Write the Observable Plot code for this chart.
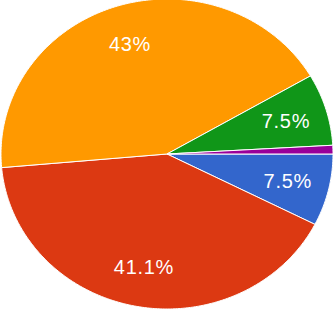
<!DOCTYPE html>
<html><head><meta charset="utf-8">
<script src="https://cdn.jsdelivr.net/npm/d3@7"></script>
<script src="https://cdn.jsdelivr.net/npm/@observablehq/plot@0.6"></script>
<style>
html,body{margin:0;padding:0;background:#fff}
#chart svg text{letter-spacing:0.7px}
</style>
</head><body><div id="chart"></div>
<script>
const categories = ["Option 1", "Option 2", "Option 3", "Option 4", "Option 5"];
const values = [7.5, 41.1, 43.0, 7.5, 0.9];
const valueLabels = ["7.5%", "41.1%", "43%", "7.5%", ""];
const colors = ["#3366cc", "#dc3912", "#ff9900", "#109618", "#990099"];

const arcs = d3.pie().sort(null).startAngle(Math.PI / 2).endAngle(Math.PI / 2 + 2 * Math.PI)(values);
const labelRadius = 0.745;
const labelData = arcs.map((a, i) => {
  const m = (a.startAngle + a.endAngle) / 2;
  return {cat: categories[i], text: valueLabels[i], ux: labelRadius * Math.sin(m), uy: -labelRadius * Math.cos(m)};
}).filter(d => d.text);

const fallbackColor = d3.scaleOrdinal(categories, colors);

function slices(index, scales) {
  const x = scales.x, y = scales.y;
  const color = typeof scales.color === "function" ? scales.color : fallbackColor;
  const g = d3.create("svg:g");
  arcs.forEach((a, i) => {
    const pts = [[x(0), y(0)]];
    const n = Math.max(2, Math.ceil((a.endAngle - a.startAngle) / 0.01));
    for (let k = 0; k <= n; k++) {
      const t = a.startAngle + (a.endAngle - a.startAngle) * k / n;
      pts.push([x(Math.sin(t)), y(-Math.cos(t))]);
    }
    g.append("path")
      .attr("d", "M" + pts.map(p => p.join(",")).join("L") + "Z")
      .attr("fill", color(categories[i]))
      .attr("stroke", "#fff")
      .attr("stroke-width", 1)
      .attr("stroke-linejoin", "round");
  });
  return g.node();
}

const chart = Plot.plot({
  width: 336,
  height: 312,
  margin: 0,
  style: {background: "#fff", overflow: "visible"},
  x: {domain: [-1, 1], range: [1, 333], axis: null},
  y: {domain: [-1, 1], range: [-1, 309], axis: null},
  color: {domain: categories, range: colors},
  marks: [
    slices,
    Plot.text(labelData, {x: "ux", y: "uy", text: "text", fill: "white", fontSize: 20, fontFamily: "Liberation Sans, Arial, sans-serif"})
  ]
});
document.getElementById("chart").append(chart);
</script>
</body></html>
